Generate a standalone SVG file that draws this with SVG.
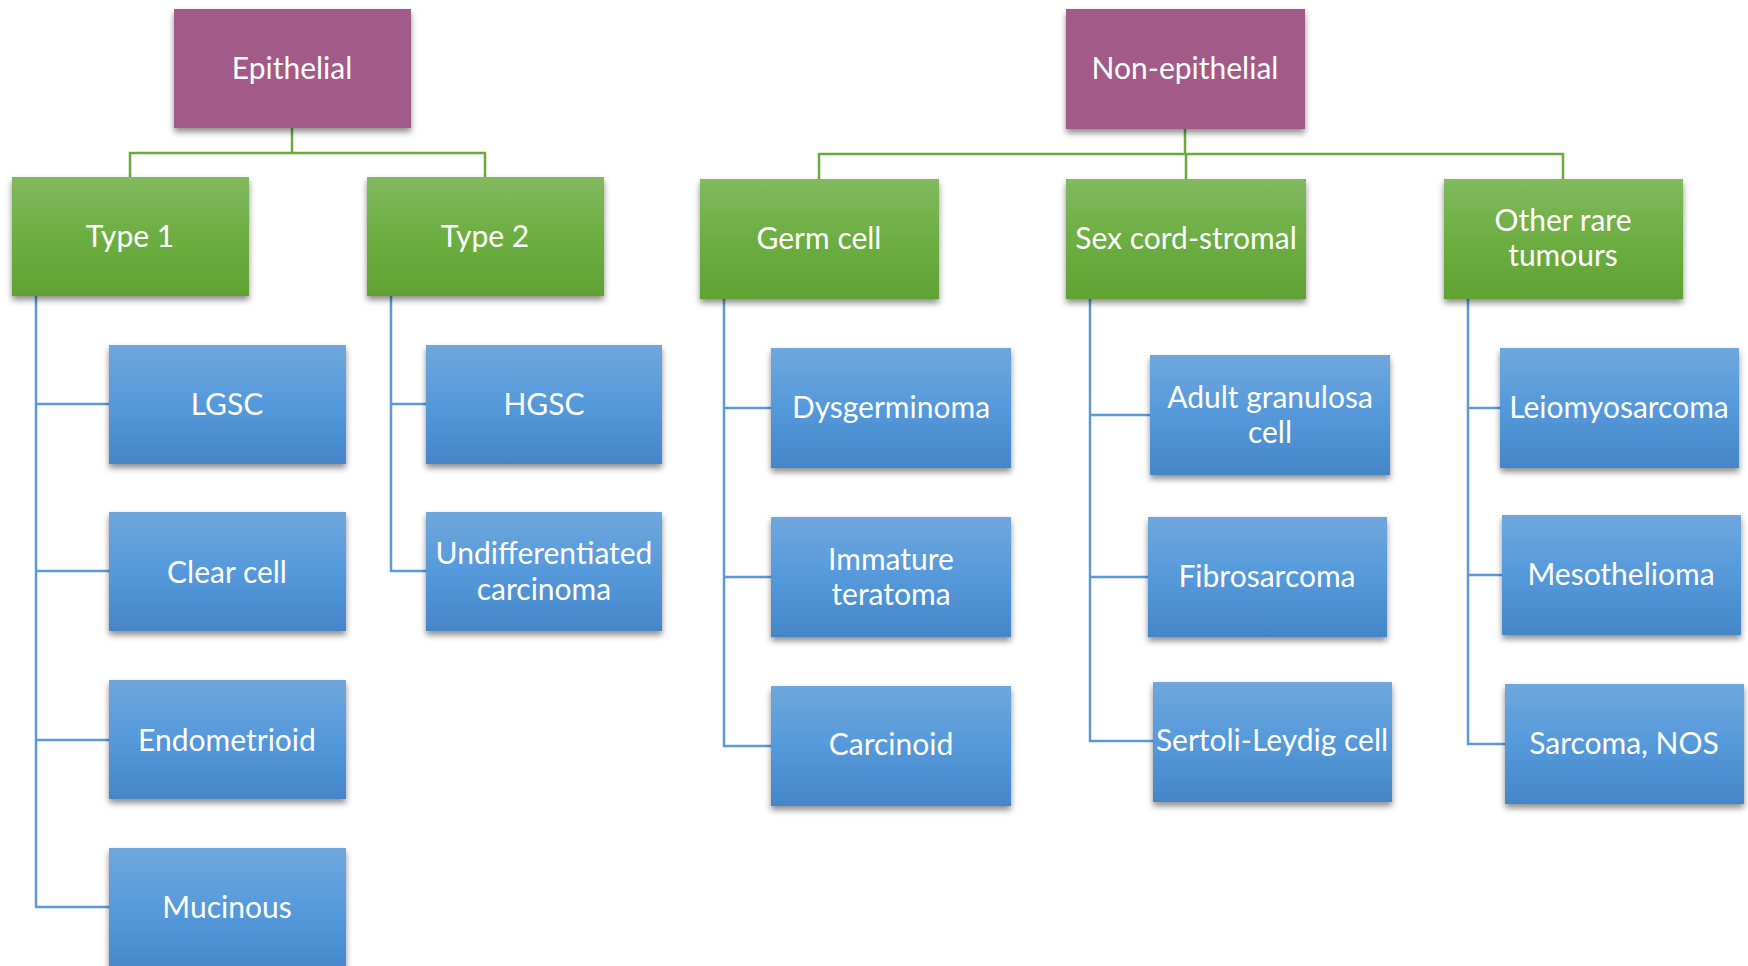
<svg xmlns="http://www.w3.org/2000/svg" width="1748" height="966" viewBox="0 0 1748 966">
<defs>
<linearGradient id="gGreen" x1="0" y1="0" x2="0" y2="1">
<stop offset="0" stop-color="#82B95F"/>
<stop offset="0.5" stop-color="#6DAE42"/>
<stop offset="1" stop-color="#61A233"/>
</linearGradient>
<linearGradient id="gBlue" x1="0" y1="0" x2="0" y2="1">
<stop offset="0" stop-color="#6FA7DC"/>
<stop offset="0.5" stop-color="#5599DB"/>
<stop offset="1" stop-color="#4586C8"/>
</linearGradient>
<filter id="sh" x="-10%" y="-10%" width="125%" height="130%">
<feDropShadow dx="0" dy="4" stdDeviation="3" flood-color="#000" flood-opacity="0.45"/>
</filter>
</defs>
<style>
.p{fill:#A25A88;filter:url(#sh)}
.g{fill:url(#gGreen);filter:url(#sh)}
.b{fill:url(#gBlue);filter:url(#sh)}
text{font-family:Lato,"Open Sans","Liberation Sans",sans-serif;font-size:30px;fill:#fff;text-anchor:middle}
.cg{stroke:#6AAC3C;stroke-width:2.5;fill:none}
.cb{stroke:#5B9BD5;stroke-width:2.5;fill:none}
</style>
<rect width="1748" height="966" fill="#fff"/>
<g id="connectors">
<path class="cg" d="M292 128V153M130 177V153H485V177"/>
<path class="cg" d="M1185 129V154M819 179V154H1563V179M1186 154V179"/>
<path class="cb" d="M36 296V907H109M36 404H109M36 571H109M36 740H109"/>
<path class="cb" d="M391 296V571H426M391 404H426"/>
<path class="cb" d="M724 299V746H771M724 408H771M724 577H771"/>
<path class="cb" d="M1090 299V741H1153M1090 415H1150M1090 577H1148"/>
<path class="cb" d="M1468 299V744H1505M1468 408H1500M1468 575H1502"/>
</g>
<g id="epithelial"><rect class="p" x="174" y="9" width="237" height="119"/><text x="292" y="79">Epithelial</text></g>
<g id="non-epithelial"><rect class="p" x="1066" y="9" width="239" height="120"/><text x="1185" y="79">Non-epithelial</text></g>
<g id="type1"><rect class="g" x="12" y="177" width="237" height="119"/><text x="130" y="247">Type 1</text></g>
<g id="type2"><rect class="g" x="367" y="177" width="237" height="119"/><text x="485" y="247">Type 2</text></g>
<g id="germ-cell"><rect class="g" x="700" y="179" width="239" height="120"/><text x="819" y="249">Germ cell</text></g>
<g id="sex-cord"><rect class="g" x="1066" y="179" width="240" height="120"/><text x="1186" y="249">Sex cord-stromal</text></g>
<g id="other-rare"><rect class="g" x="1444" y="179" width="239" height="120"/><text x="1563" y="231">Other rare</text><text x="1563" y="266">tumours</text></g>
<g id="lgsc"><rect class="b" x="109" y="345" width="237" height="119"/><text x="227" y="415">LGSC</text></g>
<g id="clear-cell"><rect class="b" x="109" y="512" width="237" height="119"/><text x="227" y="583">Clear cell</text></g>
<g id="endometrioid"><rect class="b" x="109" y="680" width="237" height="119"/><text x="227" y="751">Endometrioid</text></g>
<g id="mucinous"><rect class="b" x="109" y="848" width="237" height="130"/><text x="227" y="918">Mucinous</text></g>
<g id="hgsc"><rect class="b" x="426" y="345" width="236" height="119"/><text x="544" y="415">HGSC</text></g>
<g id="undifferentiated"><rect class="b" x="426" y="512" width="236" height="119"/><text x="544" y="564">Undifferentiated</text><text x="544" y="600">carcinoma</text></g>
<g id="dysgerminoma"><rect class="b" x="771" y="348" width="240" height="120"/><text x="891" y="418">Dysgerminoma</text></g>
<g id="immature-teratoma"><rect class="b" x="771" y="517" width="240" height="120"/><text x="891" y="570">Immature</text><text x="891" y="605">teratoma</text></g>
<g id="carcinoid"><rect class="b" x="771" y="686" width="240" height="120"/><text x="891" y="755">Carcinoid</text></g>
<g id="adult-granulosa"><rect class="b" x="1150" y="355" width="240" height="120"/><text x="1270" y="408">Adult granulosa</text><text x="1270" y="443">cell</text></g>
<g id="fibrosarcoma"><rect class="b" x="1148" y="517" width="239" height="120"/><text x="1267" y="587">Fibrosarcoma</text></g>
<g id="sertoli-leydig"><rect class="b" x="1153" y="682" width="239" height="120"/><text x="1272" y="751">Sertoli-Leydig cell</text></g>
<g id="leiomyosarcoma"><rect class="b" x="1500" y="348" width="239" height="120"/><text x="1619" y="418">Leiomyosarcoma</text></g>
<g id="mesothelioma"><rect class="b" x="1502" y="515" width="239" height="120"/><text x="1621" y="585">Mesothelioma</text></g>
<g id="sarcoma-nos"><rect class="b" x="1505" y="684" width="239" height="120"/><text x="1624" y="754">Sarcoma, NOS</text></g>
</svg>
